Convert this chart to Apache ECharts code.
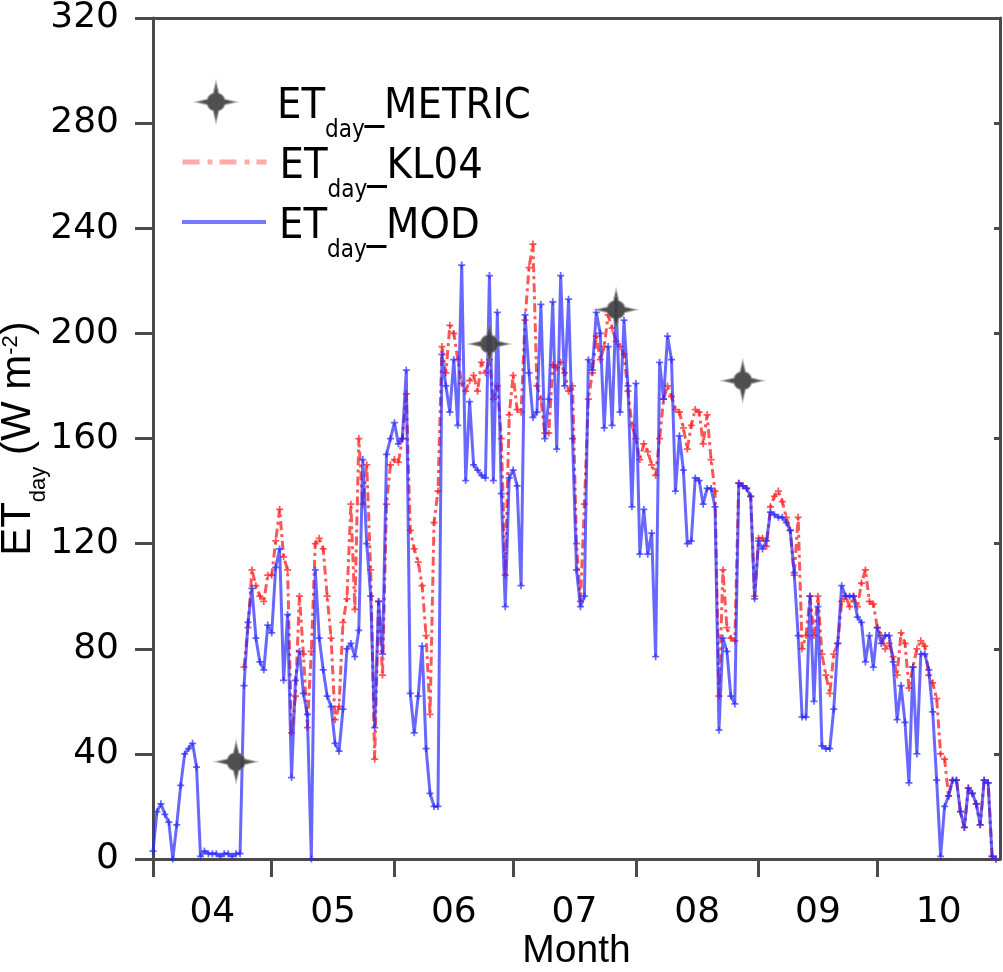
<!DOCTYPE html>
<html>
<head>
<meta charset="utf-8">
<script src="https://cdn.jsdelivr.net/npm/echarts@6/dist/echarts.min.js"></script>
<style>
html,body{margin:0;padding:0;background:#ffffff;}
#chart{width:1003px;height:972px;}
</style>
</head>
<body>
<div id="chart"></div>
<script>
// ---- data ----
const monthLabels = ['04','05','06','07','08','09','10'];
// day index (0 = 1 April) at which each month starts; last entry = 1 November
const monthStartDays = [0,30,61,91,122,153,183,214];

// daily ET_day_MOD (W m-2), 1 April .. 31 October
const modValues = [
  3,18,21,17,14,0,13,28,40,42,
  44,35,1,3,2,2,2,1,2,2,
  1,2,2,66,90,103,84,75,72,89,
  86,111,118,68,93,31,68,79,63,55,
  0,110,84,72,62,58,44,41,57,80,
  82,77,87,152,120,100,50,98,78,154,
  160,166,158,160,186,63,48,62,81,42,
  25,20,20,192,180,170,190,165,226,144,
  174,150,148,146,145,222,144,208,139,96,
  145,148,142,104,207,185,168,170,211,160,
  175,212,156,222,180,213,160,110,96,100,
  190,186,208,200,164,195,165,212,170,205,
  180,134,181,116,133,116,124,77,189,175,
  199,190,140,161,148,120,121,145,144,135,
  141,141,134,49,84,79,62,59,143,142,
  141,138,99,121,118,121,132,131,130,130,
  128,125,109,85,54,54,100,60,96,43,
  42,42,57,82,104,100,100,100,92,90,
  75,85,73,88,82,85,85,75,53,66,
  52,29,73,40,78,78,72,56,30,1,
  20,24,30,30,18,12,27,25,21,13,
  30,29,1,0
];

// daily ET_day_KL04 (W m-2), 1 April .. 31 October (no visible values before 24 April)
const kl04Values = [
  null,null,null,null,null,null,null,null,null,null,
  null,null,null,null,null,null,null,null,null,null,
  null,null,null,73,88,110,104,100,98,108,
  108,121,133,115,110,48,62,100,78,50,
  79,120,122,118,100,84,53,58,90,99,
  135,95,160,135,150,110,38,98,70,135,
  150,152,151,160,177,125,118,113,104,85,
  55,128,140,195,185,203,200,190,181,178,
  182,184,178,189,185,190,175,180,160,108,
  169,184,171,170,205,225,234,180,175,162,
  162,188,187,189,185,178,180,120,98,135,
  175,185,199,190,195,207,202,197,195,192,
  178,165,160,152,158,155,150,146,160,175,
  180,176,171,170,164,156,165,171,170,158,
  169,152,140,62,110,88,84,83,143,142,
  141,138,100,122,122,119,134,138,140,136,
  130,125,108,130,80,85,100,85,100,78,
  70,63,78,82,98,100,96,100,96,105,
  110,98,97,88,85,80,82,77,70,86,
  82,65,73,80,83,81,70,67,61,40,
  38,24,30,30,18,12,27,25,21,13,
  30,29,1,0
];

// ET_day_METRIC overpass days (day index) and values
const metricDays = [21,85,117,149];
const metricValues = [37,196,209,182];

// ---- styling ----
const FONT_TICK = "'DejaVu Sans', sans-serif";
const FONT_LEG = "'DejaVu Sans Condensed', 'Liberation Sans', sans-serif";
const FONT_NAME = "'Liberation Sans', Arial, sans-serif";

const PLUS = 'path://M-1,-4H1V-1H4V1H1V4H-1V1H-4V-1H-1Z';
const STAR = 'path://M0,-19L2.5,-8.65A9,9 0 0 1 8.65,-2.5L19,0L8.65,2.5A9,9 0 0 1 2.5,8.65L0,19L-2.5,8.65A9,9 0 0 1 -8.65,2.5L-19,0L-8.65,-2.5A9,9 0 0 1 -2.5,-8.65Z';

const labelMids = monthLabels.map((_, i) => (monthStartDays[i] + monthStartDays[i + 1]) / 2);
const tickDays = monthStartDays.slice(0, monthStartDays.length - 1);

const legendRich = {
  a:   {fontFamily: FONT_LEG, fontSize: 43, lineHeight: 44, padding: [5,0,0,0], verticalAlign: 'top', color: '#000'},
  s:   {fontFamily: FONT_LEG, fontSize: 24, lineHeight: 24, padding: [39,0,0,0], verticalAlign: 'top', color: '#000'},
  sp1: {width: 37, lineHeight: 4, verticalAlign: 'top'},
  sp2: {width: 8, lineHeight: 4, verticalAlign: 'top'}
};

const yNameRich = {
  a: {fontFamily: FONT_NAME, fontSize: 42, lineHeight: 42, padding: [10,0,0,0], verticalAlign: 'top', color: '#000'},
  s: {fontFamily: FONT_NAME, fontSize: 22, lineHeight: 22, padding: [41,0,0,0], verticalAlign: 'top', color: '#000'},
  p: {fontFamily: FONT_NAME, fontSize: 22, lineHeight: 22, padding: [13,0,0,0], verticalAlign: 'top', color: '#000'}
};

const AXIS_COLOR = '#4a4a4a';

const chart = echarts.init(document.getElementById('chart'), null, {renderer: 'canvas'});

function legendFor(name, left, top, itemWidth, itemHeight, spacer, lineStyle) {
  const lg = {
    data: [name],
    left: left, top: top, padding: 0,
    itemWidth: itemWidth, itemHeight: itemHeight,
    formatter: n => '{' + spacer + '| }{a|ET}{s|day}{a|_' + n + '}',
    textStyle: {rich: legendRich, color: '#000'},
    selectedMode: false
  };
  if (lineStyle) {
    lg.lineStyle = lineStyle;
    lg.itemStyle = {opacity: 0};
  }
  return lg;
}

const option = {
  animation: false,
  backgroundColor: '#ffffff',
  grid: {left: 153, right: 3, top: 18, bottom: 113, show: false, containLabel: false, outerBoundsMode: 'none'},
  legend: [
    legendFor('METRIC', 196, 80, 38, 38, 'sp1', null),
    legendFor('KL04', 180, 140, 84, 20, 'sp2', {color: '#ffaaaa', width: 5, type: [17,8,5,7]}),
    legendFor('MOD', 180, 200, 84, 20, 'sp2', {color: '#7777ff', width: 4, type: 'solid'})
  ],
  xAxis: [
    {
      type: 'value', min: 0, max: 214, position: 'bottom',
      name: 'Month', nameLocation: 'middle', nameGap: 73, nameMoveOverlap: false,
      nameTextStyle: {fontFamily: FONT_NAME, fontSize: 39, color: '#000'},
      axisLine: {show: true, onZero: false, lineStyle: {color: AXIS_COLOR, width: 3}},
      axisTick: {show: true, customValues: tickDays, length: 18, lineStyle: {color: AXIS_COLOR, width: 3}},
      axisLabel: {
        customValues: labelMids, margin: 36,
        fontFamily: FONT_TICK, fontSize: 36, color: '#000',
        formatter: v => { const i = labelMids.indexOf(v); return i >= 0 ? monthLabels[i] : ''; }
      },
      splitLine: {show: false}
    },
    {
      type: 'value', min: 0, max: 214, position: 'top',
      axisLine: {show: true, onZero: false, lineStyle: {color: AXIS_COLOR, width: 3}},
      axisTick: {show: false}, axisLabel: {show: false}, splitLine: {show: false}
    }
  ],
  yAxis: [
    {
      type: 'value', min: 0, max: 320, interval: 40, position: 'left',
      name: '{a|ET}{s|day}{a| (W m}{p|-2}{a|)}',
      nameLocation: 'middle', nameGap: 124, nameMoveOverlap: false,
      nameTextStyle: {rich: yNameRich, color: '#000'},
      axisLine: {show: true, onZero: false, lineStyle: {color: AXIS_COLOR, width: 3}},
      axisTick: {show: true, length: 18, lineStyle: {color: AXIS_COLOR, width: 3}},
      axisLabel: {margin: 34, fontFamily: FONT_TICK, fontSize: 36, color: '#000'},
      splitLine: {show: false}
    },
    {
      type: 'value', min: 0, max: 320, interval: 40, position: 'right',
      axisLine: {show: true, onZero: false, lineStyle: {color: AXIS_COLOR, width: 3}},
      axisTick: {show: true, inside: true, length: 6, lineStyle: {color: AXIS_COLOR, width: 3}},
      axisLabel: {show: false}, splitLine: {show: false}
    }
  ],
  series: [
    {
      name: 'KL04', type: 'line', xAxisIndex: 0, yAxisIndex: 0,
      data: kl04Values.map((v, i) => [i, v]),
      symbol: PLUS, symbolSize: 7, showSymbol: true,
      lineStyle: {color: 'rgba(255,40,40,0.78)', width: 3, type: [9,4,3,4]},
      itemStyle: {color: 'rgba(255,40,40,0.78)'},
      connectNulls: false, z: 2
    },
    {
      name: 'MOD', type: 'line', xAxisIndex: 0, yAxisIndex: 0,
      data: modValues.map((v, i) => [i, v]),
      symbol: PLUS, symbolSize: 7, showSymbol: true,
      lineStyle: {color: 'rgba(40,40,255,0.7)', width: 3},
      itemStyle: {color: 'rgba(40,40,255,0.7)'},
      z: 3
    },
    {
      name: 'METRIC', type: 'scatter', xAxisIndex: 0, yAxisIndex: 0,
      data: metricDays.map((d, i) => [d, metricValues[i]]),
      symbol: STAR, symbolSize: 38, symbolKeepAspect: true,
      itemStyle: {color: '#3c3c3c', opacity: 0.9, borderColor: 'rgba(130,130,130,0.6)', borderWidth: 2},
      z: 5
    }
  ]
};

chart.setOption(option);
</script>
</body>
</html>
